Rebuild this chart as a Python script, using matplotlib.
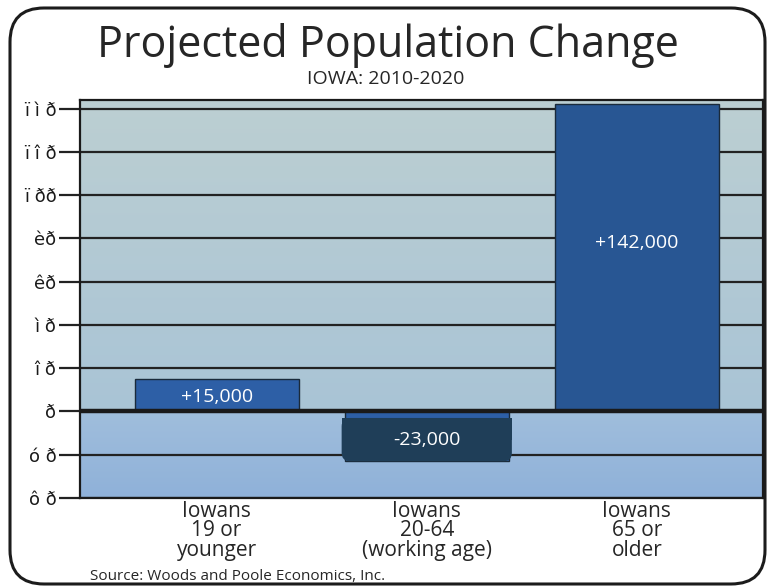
import matplotlib
matplotlib.use("Agg")
import matplotlib.pyplot as plt
import numpy as np
from matplotlib.patches import FancyBboxPatch, Rectangle
from matplotlib.colors import to_rgb

# ---- data ----
categories = ["Iowans\n19 or\nyounger", "Iowans\n20-64\n(working age)", "Iowans\n65 or\nolder"]
values = [15, -23, 142]          # thousands of people
value_labels = ["+15,000", "-23,000", "+142,000"]
ytick_values = [140, 120, 100, 80, 60, 40, 20, 0, -20, -40]
ytick_labels = ["ï ì ð", "ï î ð", "ï ðð", "èð", "êð", "ì ð", "î ð", "ð", "ó ð", "ô ð"]
title = "Projected Population Change"
subtitle = "IOWA: 2010-2020"
source = "Source: Woods and Poole Economics, Inc."

FONT = "Open Sans"
W, H = 773, 588
fig = plt.figure(figsize=(W / 100, H / 100), dpi=100)

# background / frame axes in pixel coordinates
bg = fig.add_axes([0, 0, 1, 1])
bg.set_xlim(0, W)
bg.set_ylim(H, 0)
bg.axis("off")
bg.add_patch(FancyBboxPatch((10, 8), 755, 576, boxstyle="round,pad=0,rounding_size=34",
                            fc="white", ec="#1c1c1c", lw=2.2))
bg.text(388, 46, title, ha="center", va="center", fontsize=31, family=FONT, color="#262626")
bg.text(386, 79, subtitle, ha="center", va="center", fontsize=14, family=FONT, color="#262626")
bg.text(90, 577, source, ha="left", va="center", fontsize=11, family=FONT, color="#262626")

# main axes
ax = fig.add_axes([80 / W, 90 / H, 683 / W, 398 / H])
ymin, ymax = -40, 144
xmin, xmax = -0.65, 2.6
ax.set_xlim(xmin, xmax)
ax.set_ylim(ymin, ymax)

# gradient background
ys = np.linspace(ymax, ymin, 400)
top_c, zero_up_c = np.array(to_rgb("#bccfd2")), np.array(to_rgb("#a9c4d6"))
zero_dn_c, bot_c = np.array(to_rgb("#a0bedc")), np.array(to_rgb("#8fb1d9"))
rows = []
for y in ys:
    if y >= 0:
        t = (ymax - y) / ymax
        rows.append(top_c * (1 - t) + zero_up_c * t)
    else:
        t = y / ymin
        rows.append(zero_dn_c * (1 - t) + bot_c * t)
grad = np.array(rows)[:, None, :]
ax.imshow(grad, extent=[xmin, xmax, ymin, ymax], aspect="auto", zorder=0, interpolation="bilinear")

# gridlines
for v in ytick_values:
    if v != 0:
        ax.axhline(v, color="#222222", lw=1.6, zorder=1)
ax.axhline(0, color="#1a1a1a", lw=3.2, zorder=4)

x = np.arange(len(categories))
bar_w = 0.78
bar_colors = ["#2d5fa6", "#2d5fa6", "#285693"]
ax.bar(x, values, width=bar_w, color=bar_colors, edgecolor="#1a2a3a", linewidth=1.0, zorder=3)

# dark rounded label box on the negative bar
pos = ax.get_position()
px_x = pos.width * W / (xmax - xmin)
px_y = pos.height * H / (ymax - ymin)
i_neg = int(np.argmin(values))
v_neg = values[i_neg]
box_top = -3.0
bx0 = x[i_neg] - bar_w / 2 - 0.015
bw = bar_w + 0.03
ax.add_patch(FancyBboxPatch((bx0, v_neg), bw, box_top - v_neg,
                            boxstyle="round,pad=0,rounding_size=0.04",
                            mutation_aspect=px_x / px_y,
                            fc="#1f3e58", ec="none", zorder=5))
mid = (box_top + v_neg) / 2
ax.add_patch(Rectangle((bx0, mid), bw, box_top - mid, fc="#1f3e58", ec="none", zorder=5))

# value labels
label_y = [6.5, (box_top + v_neg) / 2, 78]
for xi, lab, ly in zip(x, value_labels, label_y):
    ax.text(xi, ly, lab, ha="center", va="center", color="white", fontsize=14,
            family=FONT, zorder=6)

ax.set_yticks(ytick_values)
ax.set_yticklabels(ytick_labels, fontsize=13, color="#1a1a1a", family="DejaVu Sans")
ax.tick_params(axis="y", length=15, width=1.6, color="#222222", pad=2)
ax.set_xticks(x)
ax.set_xticklabels(categories, fontsize=15, family=FONT, color="#262626", linespacing=0.9)
ax.tick_params(axis="x", length=0, pad=2)
for s in ax.spines.values():
    s.set_color("#1a1a1a")
    s.set_linewidth(1.6)
    s.set_zorder(7)

fig.savefig("out.png", dpi=100)
